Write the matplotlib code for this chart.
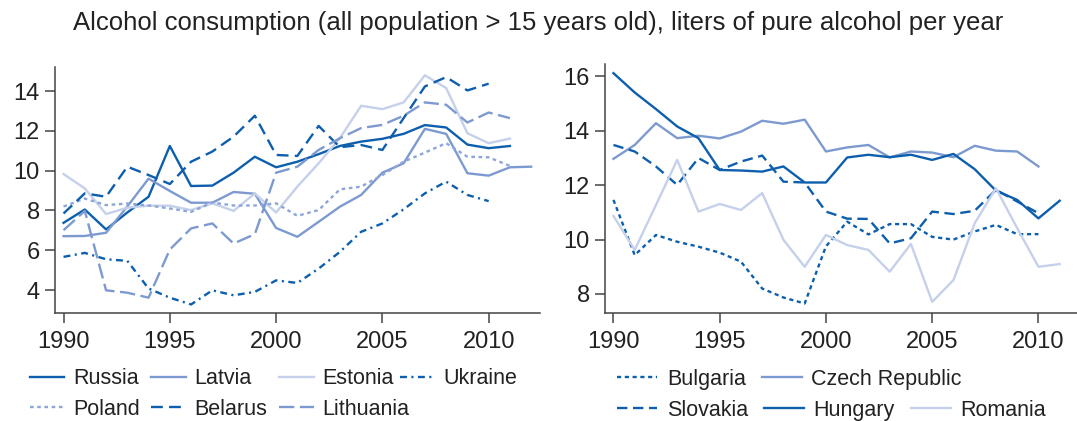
import matplotlib
matplotlib.use("Agg")
import matplotlib.pyplot as plt

# ---------------------------------------------------------
# Datos (litros de alcohol puro por persona > 15 años)
# ---------------------------------------------------------
years = list(range(1990, 2013))

russia = [7.38, 8.05, 7.05, 7.9, 8.69, 11.24, 9.23, 9.25, 9.9, 10.7, 10.17,
          10.45, 10.83, 11.24, 11.46, 11.6, 11.85, 12.29, 12.17, 11.31, 11.13, 11.24]
latvia = [6.71, 6.72, 6.88, 8.2, 9.6, 8.98, 8.39, 8.39, 8.93, 8.84, 7.12,
          6.68, 7.43, 8.19, 8.78, 9.9, 10.37, 12.1, 11.85, 9.87, 9.75, 10.17, 10.2]
estonia = [9.83, 9.11, 7.82, 8.14, 8.24, 8.24, 8.02, 8.36, 7.98, 8.86, 7.9,
           9.2, 10.37, 11.63, 13.26, 13.09, 13.43, 14.79, 14.15, 11.88, 11.38, 11.61]
ukraine = [5.67, 5.87, 5.55, 5.47, 4.08, 3.62, 3.28, 3.99, 3.74, 3.91, 4.49,
           4.36, 5.08, 5.92, 6.93, 7.35, 8.06, 8.86, 9.45, 8.78, 8.47]
poland = [8.2, 8.6, 8.27, 8.35, 8.25, 8.1, 7.93, 8.4, 8.25, 8.25, 8.36,
          7.73, 8.02, 9.06, 9.2, 9.78, 10.45, 10.91, 11.38, 10.7, 10.67, 10.24]
belarus = [7.85, 8.86, 8.69, 10.2, 9.78, 9.33, 10.45, 10.96, 11.71, 12.76, 10.79,
           10.74, 12.25, 11.18, 11.29, 11.04, 12.64, 14.23, 14.7, 14.03, 14.37]
lithuania = [7.01, 7.98, 3.99, 3.87, 3.62, 6.04, 7.1, 7.35, 6.34, 6.81, 9.9,
             10.2, 11.04, 11.63, 12.14, 12.3, 12.76, 13.43, 13.31, 12.42, 12.92, 12.64]

bulgaria = [11.46, 9.43, 10.17, 9.92, 9.74, 9.52, 9.19, 8.2, 7.87, 7.65, 9.75,
            10.66, 10.19, 10.57, 10.57, 10.1, 10.0, 10.3, 10.54, 10.2, 10.2]
czech = [12.97, 13.48, 14.28, 13.73, 13.82, 13.72, 13.97, 14.37, 14.26, 14.41, 13.24,
         13.39, 13.48, 13.02, 13.24, 13.2, 13.03, 13.45, 13.27, 13.24, 12.69]
slovakia = [13.48, 13.24, 12.69, 12.01, 13.0, 12.56, 12.87, 13.09, 12.13, 12.1, 11.03,
            10.77, 10.76, 9.86, 10.05, 11.03, 10.94, 11.06, 11.83, 11.4, 10.97]
hungary = [16.12, 15.41, 14.8, 14.16, 13.73, 12.56, 12.54, 12.5, 12.69, 12.1, 12.1,
           13.02, 13.12, 13.03, 13.12, 12.93, 13.15, 12.59, 11.8, 11.46, 10.78, 11.43]
romania = [10.87, 9.62, 11.27, 12.93, 11.03, 11.31, 11.09, 11.71, 9.99, 9.0, 10.17,
           9.8, 9.62, 8.82, 9.84, 7.71, 8.51, 10.6, 11.89, 10.42, 9.0, 9.1]

xticks = [1990, 1995, 2000, 2005, 2010]
yticks_left = [4, 6, 8, 10, 12, 14]
yticks_right = [8, 10, 12, 14, 16]

# ---------------------------------------------------------
# Estilo
# ---------------------------------------------------------
plt.rcParams['font.family'] = ['Liberation Sans', 'DejaVu Sans']
plt.rcParams['lines.scale_dashes'] = False

DARK = "#0d5fad"
MED = "#7d9ad0"
LIGHT = "#c5d0ea"
POL = "#8ca6da"
LW = 1.7
TXT = "#222222"

fig = plt.figure(figsize=(10.77, 4.21), dpi=100)
ax1 = fig.add_axes([0.0511, 0.2565, 0.450, 0.584])
ax2 = fig.add_axes([0.5617, 0.2565, 0.438, 0.591])

# izquierda
ax1.plot(years[:len(russia)], russia, color=DARK, lw=LW, label="Russia")
ax1.plot(years[:len(latvia)], latvia, color=MED, lw=LW, label="Latvia")
ax1.plot(years[:len(estonia)], estonia, color=LIGHT, lw=LW, label="Estonia")
ax1.plot(years[:len(ukraine)], ukraine, color=DARK, lw=LW,
         linestyle=(0, (5, 3.2, 1.5, 3.2)), label="Ukraine")
ax1.plot(years[:len(poland)], poland, color=POL, lw=LW,
         linestyle=(0, (2.6, 2.6)), label="Poland")
ax1.plot(years[:len(belarus)], belarus, color=DARK, lw=LW,
         linestyle=(0, (8.5, 4.5)), label="Belarus")
ax1.plot(years[:len(lithuania)], lithuania, color=MED, lw=LW,
         linestyle=(0, (11, 4)), label="Lithuania")

# derecha
ax2.plot(years[:len(bulgaria)], bulgaria, color=DARK, lw=LW,
         linestyle=(0, (3, 2.6)), label="Bulgaria")
ax2.plot(years[:len(czech)], czech, color=MED, lw=LW, label="Czech Republic")
ax2.plot(years[:len(slovakia)], slovakia, color=DARK, lw=LW,
         linestyle=(0, (7.5, 4)), label="Slovakia")
ax2.plot(years[:len(hungary)], hungary, color=DARK, lw=LW, label="Hungary")
ax2.plot(years[:len(romania)], romania, color=LIGHT, lw=LW, label="Romania")

for ax in (ax1, ax2):
    ax.set_xticks(xticks)
    ax.spines['top'].set_visible(False)
    ax.spines['right'].set_visible(False)
    for s in ('left', 'bottom'):
        ax.spines[s].set_color("#444444")
        ax.spines[s].set_linewidth(1.1)
    ax.tick_params(direction='out', length=7, width=1.1, color="#444444",
                   labelsize=17, labelcolor=TXT)
    ax.tick_params(axis='x', pad=6)
    ax.tick_params(axis='y', pad=4)

ax1.set_xlim(1989.6, 2012.4)
ax1.set_ylim(2.85, 15.2)
ax1.set_yticks(yticks_left)
ax2.set_xlim(1989.6, 2011.8)
ax2.set_ylim(7.3, 16.45)
ax2.set_yticks(yticks_right)

fig.suptitle("Alcohol consumption (all population > 15 years old), liters of pure alcohol per year",
             x=0.5, y=0.975, fontsize=18.5, color=TXT)

# leyendas (orden por filas)
leg_kw = dict(frameon=False, fontsize=15.5, labelcolor=TXT, borderaxespad=0,
              loc='upper left')
h, l = ax1.get_legend_handles_labels()
order = [0, 4, 1, 5, 2, 6]
leg_l = ax1.legend([h[i] for i in order], [l[i] for i in order], ncol=3,
                   bbox_to_anchor=(-0.07, -0.19), handlelength=1.6,
                   handletextpad=0.4, columnspacing=0.55, labelspacing=0.45,
                   **leg_kw)
ax1.add_artist(leg_l)
ax1.legend([h[3]], [l[3]], bbox_to_anchor=(0.694, -0.19), handlelength=1.6,
           handletextpad=0.4, **leg_kw)

h2, l2 = ax2.get_legend_handles_labels()
leg_a = ax2.legend([h2[0], h2[1]], [l2[0], l2[1]], ncol=2,
                   bbox_to_anchor=(0.008, -0.19), handlelength=1.85,
                   handletextpad=0.45, columnspacing=0.75, **leg_kw)
ax2.add_artist(leg_a)
ax2.legend([h2[2], h2[3], h2[4]], [l2[2], l2[3], l2[4]], ncol=3,
           bbox_to_anchor=(0.008, -0.315), handlelength=1.85,
           handletextpad=0.45, columnspacing=0.75, **leg_kw)

fig.savefig("out.png", dpi=100)
